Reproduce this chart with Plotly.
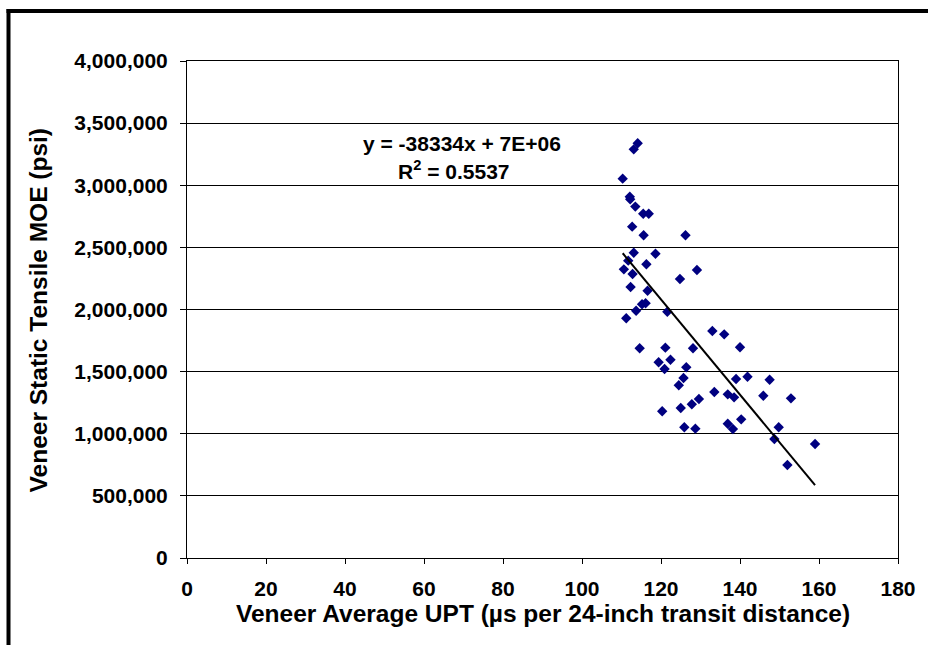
import numpy as np
import plotly.graph_objects as go

# Veneer average UPT (µs per 24-inch transit distance)
upt = [114.1, 113.1, 110.3, 112.1, 112.2, 113.5, 115.5, 116.9, 112.7, 115.6,
       126.2, 113.1, 118.6, 111.7, 116.3, 110.6, 112.8, 129.1, 124.8, 112.3,
       116.6, 115.2, 116.1, 113.7, 121.6, 111.2, 133.0, 114.6, 121.1, 128.1,
       119.4, 122.4, 120.9, 126.4, 125.7, 124.5, 133.5, 129.6, 127.8, 125.0,
       120.3, 125.9, 128.7, 136.0, 140.0, 139.0, 141.9, 147.5, 136.9, 138.5,
       145.9, 152.9, 140.3, 136.9, 138.2, 149.8, 148.7, 159.0, 152.0]

# Veneer static tensile MOE (psi)
moe = [3338000, 3289000, 3053000, 2908000, 2887000, 2828000, 2771000, 2771000, 2667000, 2597000,
       2597000, 2457000, 2449000, 2393000, 2364000, 2323000, 2286000, 2318000, 2245000, 2181000,
       2151000, 2042000, 2050000, 1990000, 1982000, 1929000, 1827000, 1688000, 1693000, 1688000,
       1575000, 1596000, 1521000, 1535000, 1449000, 1390000, 1336000, 1280000, 1237000, 1207000,
       1181000, 1052000, 1041000, 1800000, 1696000, 1441000, 1459000, 1435000, 1317000, 1293000,
       1306000, 1285000, 1116000, 1081000, 1038000, 1052000, 958000, 918000, 748000]

trend_slope = -38334
trend_intercept = 6681000
eq_text = "y = -38334x + 7E+06"
r2_text = "R<sup>2</sup> = 0.5537"

x_title = "Veneer Average UPT (µs per 24-inch transit distance)"
y_title = "Veneer Static Tensile MOE (psi)"

FONT = "Liberation Sans, Arial, sans-serif"

tx = np.array([min(upt), max(upt)])
ty = trend_slope * tx + trend_intercept

fig = go.Figure()
fig.add_trace(go.Scatter(x=upt, y=moe, mode="markers",
                         marker=dict(symbol="diamond", size=8, color="#000080",
                                     line=dict(width=0)),
                         showlegend=False))
fig.add_trace(go.Scatter(x=tx, y=ty, mode="lines",
                         line=dict(color="black", width=2), showlegend=False))

W, H = 928, 645
L, R, T, B = 187, 28, 61, 87
pw, ph = W - L - R, H - T - B

def px_x(p):
    return (p - L) / pw

def px_y(p):
    return (H - B - p) / ph

fig.update_layout(
    width=W, height=H,
    margin=dict(l=L, r=R, t=T, b=B, pad=0),
    paper_bgcolor="white", plot_bgcolor="white",
    font=dict(family=FONT, color="black"),
    xaxis=dict(range=[0, 180], dtick=20, tick0=0, showgrid=False, zeroline=False,
               showline=True, linecolor="black", linewidth=1, mirror=True,
               ticks="outside", ticklen=5, tickcolor="black",
               tickfont=dict(family=FONT, size=21, weight="bold"),
               ticklabelstandoff=7),
    yaxis=dict(range=[0, 4000000], dtick=500000, tick0=0, tickformat=",d",
               showgrid=True, gridcolor="black", gridwidth=1, zeroline=False,
               showline=True, linecolor="black", linewidth=1, mirror=True,
               ticks="outside", ticklen=6, tickcolor="black",
               tickfont=dict(family=FONT, size=21, weight="bold"),
               ticklabelstandoff=8),
)

fig.add_annotation(x=69.7, y=3340000, xref="x", yref="y", text=eq_text, showarrow=False,
                   font=dict(family=FONT, size=21, weight="bold"))
fig.add_annotation(x=67.7, y=3120000, xref="x", yref="y", text=r2_text, showarrow=False,
                   font=dict(family=FONT, size=21, weight="bold"))

fig.add_annotation(x=px_x(544), y=px_y(613), xref="paper", yref="paper", text=x_title,
                   showarrow=False, xanchor="center", yanchor="middle",
                   font=dict(family=FONT, size=24.5, weight="bold"))
fig.add_annotation(x=px_x(38), y=px_y(310), xref="paper", yref="paper", text=y_title,
                   showarrow=False, xanchor="center", yanchor="middle", textangle=-90,
                   font=dict(family=FONT, size=24.5, weight="bold"))

# outer chart frame: only its left and top edges fall inside the page
fig.add_shape(type="line", xref="paper", yref="paper",
              x0=px_x(6), x1=px_x(W + 20), y0=px_y(11), y1=px_y(11),
              line=dict(color="black", width=4), layer="above")
fig.add_shape(type="line", xref="paper", yref="paper",
              x0=px_x(8), x1=px_x(8), y0=px_y(9), y1=px_y(H + 20),
              line=dict(color="black", width=4), layer="above")

fig.write_html(
    "out.html",
    post_script="document.documentElement.style.overflow='hidden';"
                "document.body.style.overflow='hidden';document.body.style.margin='0';",
)
